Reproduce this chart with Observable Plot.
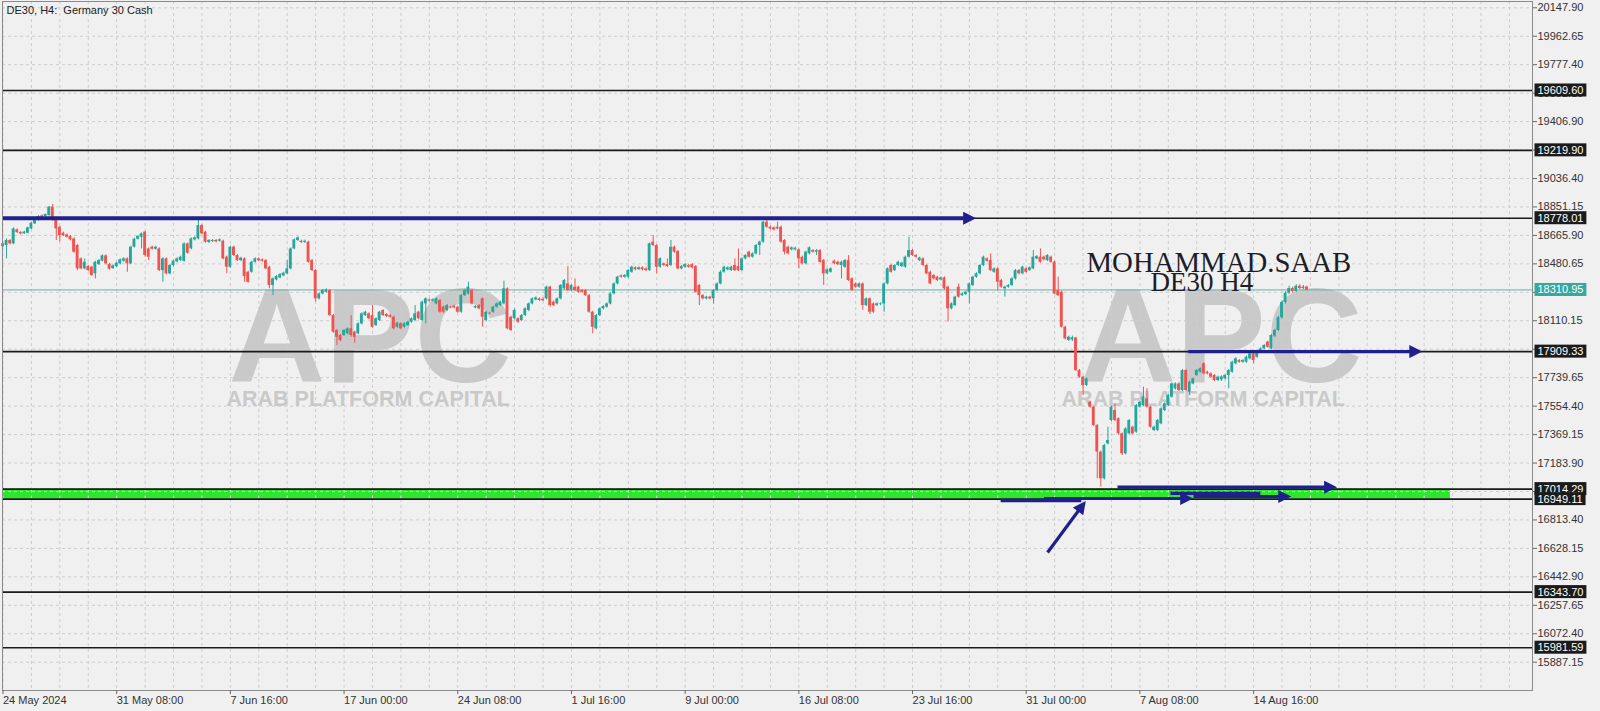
<!DOCTYPE html>
<html><head><meta charset="utf-8">
<script src="https://cdn.jsdelivr.net/npm/d3@7"></script>
<script src="https://cdn.jsdelivr.net/npm/@observablehq/plot@0.6"></script>
<style>
html,body{margin:0;padding:0;background:#f0f0f0;}
#chart{width:1600px;height:711px;position:relative;overflow:hidden;background:#f0f0f0;}
</style></head><body><div id="chart"></div>
<script>
// ---------- DATA (H4 bars, index 0 = 24 May 2024 00:00) ----------
const opens = [
18593,18600,18633,18611,18702,18685,18676,18680,18708,18741,
18763,18793,18789,18795,18850,18767,18719,18680,18669,18659,
18643,18600,18513,18448,18463,18459,18416,18476,18498,18533,
18476,18450,18463,18481,18498,18513,18481,18589,18641,18654,
18687,18578,18589,18576,18578,18437,18513,18416,18470,18494,
18502,18498,18611,18578,18637,18643,18730,18687,18620,18626,
18633,18628,18628,18524,18459,18589,18535,18502,18513,18426,
18426,18491,18513,18507,18502,18459,18340,18376,18389,18402,
18416,18448,18578,18633,18628,18620,18622,18502,18437,18253,
18285,18296,18307,18144,18047,18014,18014,18025,18058,18036,
18025,18090,18144,18155,18144,18079,18112,18177,18151,18144,
18133,18068,18090,18068,18079,18101,18112,18166,18112,18220,
18246,18238,18220,18242,18199,18177,18199,18205,18199,18166,
18274,18285,18307,18194,18209,18253,18112,18159,18166,18199,
18209,18220,18318,18133,18123,18123,18112,18144,18177,18220,
18246,18253,18250,18253,18329,18231,18220,18253,18318,18350,
18307,18329,18329,18307,18307,18274,18166,18058,18144,18188,
18199,18220,18285,18350,18402,18394,18394,18426,18455,18444,
18455,18448,18437,18622,18600,18459,18481,18476,18470,18589,
18561,18448,18459,18470,18476,18463,18340,18274,18253,18264,
18253,18307,18350,18426,18442,18437,18470,18463,18437,18513,
18557,18524,18546,18600,18622,18752,18719,18715,18719,18719,
18633,18589,18572,18572,18572,18524,18481,18546,18567,18557,
18567,18502,18416,18426,18498,18491,18470,18459,18502,18383,
18350,18329,18350,18209,18253,18220,18209,18216,18220,18350,
18470,18437,18470,18463,18459,18524,18567,18535,18502,18513,
18470,18426,18405,18394,18376,18389,18329,18188,18209,18329,
18274,18281,18296,18340,18394,18416,18470,18513,18502,18426,
18448,18372,18318,18329,18340,18383,18437,18416,18448,18437,
18448,18513,18524,18524,18502,18524,18491,18307,18296,18068,
17982,17985,17998,17786,17743,17689,17580,17548,17428,17255,
17081,17309,17461,17526,17472,17374,17244,17374,17417,17385,
17548,17558,17602,17548,17396,17396,17439,17526,17558,17613,
17667,17699,17656,17786,17645,17699,17754,17775,17830,17775,
17765,17754,17721,17725,17732,17754,17775,17830,17851,17840,
17840,17862,17895,17873,17906,17927,17971,17927,18010,18047,
18130,18230,18290,18320,18300,18335,18320,18330];
const highs = [
18615,18643,18639,18715,18708,18691,18693,18719,18752,18774,
18795,18800,18806,18854,18867,18771,18726,18687,18676,18665,
18650,18606,18520,18513,18470,18465,18498,18509,18539,18539,
18483,18474,18491,18513,18520,18520,18596,18648,18665,18682,
18693,18585,18596,18596,18585,18520,18520,18476,18505,18520,
18531,18617,18617,18650,18656,18767,18737,18693,18639,18639,
18639,18643,18635,18531,18596,18596,18541,18524,18520,18433,
18498,18520,18520,18513,18509,18465,18390,18405,18418,18426,
18502,18585,18643,18656,18635,18635,18628,18509,18444,18292,
18314,18318,18314,18151,18053,18021,18053,18064,18144,18042,
18097,18162,18172,18162,18209,18129,18172,18183,18157,18151,
18140,18101,18097,18097,18107,18129,18209,18172,18238,18259,
18253,18253,18259,18248,18205,18216,18205,18212,18205,18281,
18314,18361,18314,18209,18216,18259,18172,18166,18205,18227,
18238,18368,18324,18140,18188,18129,18151,18194,18227,18259,
18266,18259,18259,18335,18335,18238,18259,18346,18379,18463,
18346,18383,18335,18314,18314,18281,18172,18151,18194,18209,
18227,18292,18357,18400,18409,18411,18444,18465,18461,18461,
18461,18455,18617,18665,18606,18520,18487,18513,18633,18596,
18567,18470,18483,18476,18483,18470,18346,18281,18270,18270,
18314,18357,18437,18465,18461,18465,18513,18578,18520,18541,
18563,18552,18606,18628,18758,18767,18726,18721,18752,18726,
18639,18596,18591,18589,18578,18531,18563,18591,18574,18574,
18574,18509,18448,18455,18505,18498,18498,18509,18535,18390,
18357,18357,18357,18259,18259,18227,18227,18227,18357,18455,
18476,18476,18498,18491,18531,18654,18574,18541,18524,18520,
18476,18433,18411,18400,18396,18396,18335,18227,18270,18350,
18292,18303,18357,18400,18422,18476,18531,18520,18546,18455,
18455,18379,18335,18346,18390,18444,18444,18465,18455,18461,
18567,18535,18578,18531,18541,18531,18498,18394,18303,18075,
18010,18010,18003,17793,17749,17738,17587,17554,17435,17261,
17305,17417,17554,17569,17478,17380,17413,17467,17424,17565,
17587,17678,17667,17554,17424,17467,17543,17576,17630,17706,
17706,17706,17793,17793,17717,17738,17793,17804,17836,17782,
17771,17760,17749,17752,17760,17793,17847,17869,17858,17858,
17880,17901,17901,17912,17934,17955,17977,18021,18055,18140,
18240,18300,18335,18330,18345,18345,18340,18335];
const lows = [
18589,18513,18604,18606,18678,18669,18672,18676,18704,18737,
18758,18778,18784,18791,18758,18633,18622,18659,18648,18630,
18550,18437,18442,18442,18431,18398,18383,18470,18494,18474,
18439,18444,18457,18474,18491,18426,18476,18585,18637,18578,
18524,18502,18570,18570,18431,18361,18409,18409,18463,18487,
18496,18491,18544,18572,18630,18637,18669,18615,18613,18620,
18617,18622,18507,18416,18452,18528,18496,18496,18361,18355,
18420,18485,18496,18491,18442,18318,18274,18370,18383,18396,
18409,18442,18572,18626,18613,18613,18485,18431,18231,18246,
18279,18290,18138,18029,17949,17975,18008,18018,18003,17964,
18018,18083,18138,18116,18062,18073,18105,18138,18131,18127,
18051,18062,18051,18062,18073,18094,18105,18116,18105,18090,
18231,18231,18214,18159,18159,18170,18188,18188,18159,18159,
18268,18279,18214,18188,18181,18068,18105,18149,18159,18192,
18203,18214,18051,18040,18116,18094,18105,18138,18170,18214,
18240,18235,18235,18246,18199,18203,18214,18246,18311,18300,
18300,18300,18290,18290,18268,18159,18025,18051,18138,18181,
18192,18214,18279,18344,18387,18387,18387,18420,18435,18437,
18435,18431,18431,18593,18416,18452,18463,18457,18463,18550,
18442,18442,18452,18452,18448,18290,18209,18246,18246,18246,
18220,18300,18344,18420,18435,18431,18431,18431,18431,18507,
18518,18518,18539,18535,18615,18713,18702,18695,18702,18615,
18539,18539,18565,18565,18448,18474,18474,18539,18550,18535,
18485,18340,18409,18420,18474,18470,18383,18452,18366,18300,
18322,18322,18177,18203,18151,18159,18203,18209,18166,18344,
18420,18431,18463,18457,18452,18518,18528,18518,18496,18463,
18409,18344,18376,18366,18370,18311,18101,18181,18203,18257,
18268,18274,18220,18333,18387,18409,18463,18491,18431,18420,
18307,18322,18264,18322,18333,18376,18409,18409,18420,18431,
18442,18507,18485,18500,18496,18485,18279,18268,18062,17986,
17975,17975,17780,17736,17623,17682,17541,17422,17081,17027,
17074,17302,17454,17454,17367,17233,17237,17367,17367,17378,
17541,17552,17541,17411,17389,17389,17433,17519,17552,17606,
17660,17649,17649,17649,17623,17693,17747,17769,17758,17758,
17736,17715,17715,17715,17725,17667,17769,17823,17834,17834,
17834,17856,17830,17866,17899,17921,17932,17921,18000,18040,
18120,18220,18280,18290,18295,18310,18312,18305];
const closes = [
18611,18633,18611,18708,18685,18676,18687,18715,18745,18767,
18789,18784,18802,18850,18767,18708,18665,18665,18654,18637,
18557,18448,18448,18491,18437,18405,18491,18502,18533,18481,
18446,18468,18485,18507,18513,18481,18589,18641,18659,18676,
18535,18524,18576,18589,18437,18513,18416,18470,18498,18513,
18524,18611,18550,18643,18650,18730,18676,18622,18633,18633,
18624,18637,18513,18459,18589,18535,18502,18518,18398,18361,
18491,18513,18502,18498,18448,18340,18383,18398,18411,18420,
18448,18578,18637,18650,18620,18628,18491,18437,18253,18285,
18307,18311,18144,18036,18003,17982,18047,18058,18014,18003,
18090,18155,18166,18123,18068,18123,18166,18144,18138,18133,
18058,18094,18058,18090,18101,18123,18155,18123,18231,18253,
18238,18246,18253,18166,18166,18209,18194,18194,18166,18274,
18307,18329,18220,18203,18188,18133,18166,18155,18199,18220,
18231,18318,18058,18047,18177,18101,18144,18188,18220,18253,
18259,18242,18240,18329,18209,18209,18253,18340,18372,18307,
18340,18307,18296,18296,18274,18166,18068,18144,18188,18203,
18220,18285,18350,18394,18394,18405,18437,18459,18442,18455,
18442,18437,18611,18600,18459,18513,18470,18463,18589,18557,
18448,18463,18476,18459,18455,18296,18274,18253,18264,18253,
18307,18350,18426,18459,18455,18459,18437,18437,18513,18535,
18524,18546,18600,18622,18752,18719,18708,18702,18708,18622,
18557,18546,18585,18583,18513,18481,18557,18585,18557,18567,
18491,18416,18442,18448,18481,18476,18491,18502,18372,18307,
18329,18350,18209,18253,18166,18166,18220,18220,18350,18448,
18426,18470,18491,18485,18524,18567,18535,18524,18518,18470,
18416,18350,18383,18372,18389,18318,18188,18220,18264,18264,
18285,18296,18350,18394,18416,18470,18524,18498,18437,18448,
18361,18329,18329,18340,18383,18437,18416,18459,18426,18455,
18524,18528,18491,18507,18535,18491,18285,18274,18068,17992,
18003,18000,17786,17743,17689,17732,17548,17428,17255,17081,
17298,17331,17548,17461,17374,17244,17406,17461,17374,17558,
17580,17613,17548,17417,17417,17461,17537,17569,17623,17699,
17699,17656,17786,17656,17710,17732,17786,17797,17765,17765,
17743,17721,17743,17745,17754,17786,17840,17862,17840,17851,
17873,17895,17851,17906,17927,17949,17938,18014,18047,18130,
18230,18290,18320,18300,18335,18320,18330,18311];

const xTickBars   = [0,32,64,96,128,160,192,224,256,288,320,352];
const xTickLabels = ["24 May 2024","31 May 08:00","7 Jun 16:00","17 Jun 00:00","24 Jun 08:00","1 Jul 16:00",
                     "9 Jul 00:00","16 Jul 08:00","23 Jul 16:00","31 Jul 00:00","7 Aug 08:00","14 Aug 16:00"];
const yTicks = [20147.90,19962.65,19777.40,19592.15,19406.90,19221.65,19036.40,18851.15,18665.90,18480.65,
                18295.40,18110.15,17924.90,17739.65,17554.40,17369.15,17183.90,16998.65,16813.40,16628.15,
                16442.90,16257.65,16072.40,15887.15];
const levels = [19609.60,19219.90,18778.01,17909.33,17014.29,16949.11,16343.70,15981.59];
const lastPrice = 18310.95;
const zoneBand = {from: -0.14, to: 407.4, low: 16949.11, high: 17014.29};
// drawn trend arrows (bar index, price)
const topLine   = [{x1: -0.14, y1: 18778.01, x2: 270.6, y2: 18778.01}];
const arrowsHead = [
  {x1: 333.6, y1: 17909.33, x2: 396.2, y2: 17909.33},
  {x1: 313.7, y1: 17027,    x2: 372.2, y2: 17027},
  {x1: 293.0, y1: 16953,    x2: 331.7, y2: 16953},
  {x1: 335.1, y1: 16966,    x2: 359.3, y2: 16966},
  {x1: 294.0, y1: 16601,    x2: 302.8, y2: 16876}
];
const plainLines = [
  {x1: 280.8, y1: 16940, x2: 303.5, y2: 16940},
  {x1: 328.6, y1: 16987, x2: 353.9, y2: 16987}
];
const titleText = "DE30, H4:\u00a0 Germany 30 Cash";
const authorText = "MOHAMMAD.SAAB";
const symbolText = "DE30 H4";
const wmLogo = "APC";
const wmName = "ARAB PLATFORM CAPITAL";

// ---------- STYLE ----------
const BULL = "#26a69a", BEAR = "#ef5350", NAVY = "#20208c", NAVY2 = "#21218d";
const xDomain = [-0.14, 430.5], yDomain = [15702.9, 20188.9];
const vGrid = d3.range(0, 431, 8);

const candles = opens.map((o, i) => ({i, o, h: highs[i], l: lows[i], c: closes[i]}));
const bull = candles.filter(d => d.c >= d.o), bear = candles.filter(d => d.c < d.o);
const labelMap = new Map(xTickBars.map((b, i) => [b, xTickLabels[i]]));
const wm = {fill: "#c9c9c9", fontWeight: "bold", textAnchor: "start", lineAnchor: "middle", frameAnchor: "top-left", text: d => d};
const sig = {frameAnchor: "top-left", lineAnchor: "middle", textAnchor: "start", text: d => d, fontFamily: "'Liberation Serif', 'Times New Roman', serif", fill: "#1d1d28"};

const chart = Plot.plot({
  width: 1600, height: 711,
  marginLeft: 2, marginRight: 68, marginTop: 1, marginBottom: 21,
  style: {background: "transparent", fontFamily: "'Liberation Sans', Arial, sans-serif", fontSize: "11px", color: "#333"},
  x: {type: "linear", domain: xDomain, axis: null},
  y: {type: "linear", domain: yDomain, axis: null},
  marks: [
    // watermark
    Plot.text([wmLogo], {...wm, dx: 226, dy: 338, fontSize: 134}),
    Plot.text([wmName], {...wm, dx: 224, dy: 398, fontSize: 21.5}),
    Plot.text([wmLogo], {...wm, dx: 1077, dy: 338, fontSize: 134}),
    Plot.text([wmName], {...wm, dx: 1059, dy: 398, fontSize: 21.5}),
    // grid
    Plot.gridY({ticks: yTicks, stroke: "#cdcdcd", strokeOpacity: 1, strokeDasharray: "3,3"}),
    Plot.gridX({ticks: vGrid, stroke: "#cdcdcd", strokeOpacity: 1, strokeDasharray: "3,3"}),
    // support zone
    Plot.rect([zoneBand], {x1: "from", x2: "to", y1: "low", y2: "high", fill: "#2fe62f"}),
    Plot.ruleY([16998.65], {x1: zoneBand.from, x2: zoneBand.to, stroke: "#c8f7c8", strokeDasharray: "3,3"}),
    Plot.ruleX(vGrid.filter(v => v <= zoneBand.to), {y1: zoneBand.low, y2: zoneBand.high, stroke: "#c8f7c8", strokeDasharray: "3,3"}),
    // horizontal levels
    Plot.ruleY(levels, {stroke: "#1a1a1a", strokeWidth: 1.6}),
    Plot.ruleY([lastPrice], {stroke: "#5fb5ad", strokeWidth: 1}),
    // candles
    Plot.ruleX(bull, {x: "i", y1: "l", y2: "h", stroke: BULL, strokeWidth: 1}),
    Plot.ruleX(bear, {x: "i", y1: "l", y2: "h", stroke: BEAR, strokeWidth: 1}),
    Plot.rect(bull, {x1: d => d.i - 0.4, x2: d => d.i + 0.4, y1: "o", y2: "c", fill: BULL}),
    Plot.rect(bear, {x1: d => d.i - 0.4, x2: d => d.i + 0.4, y1: "o", y2: "c", fill: BEAR}),
    // drawn trend lines / arrows
    Plot.link(topLine, {x1: "x1", y1: "y1", x2: "x2", y2: "y2", stroke: NAVY2, strokeWidth: 4}),
    Plot.link(plainLines, {x1: "x1", y1: "y1", x2: "x2", y2: "y2", stroke: NAVY, strokeWidth: 3.5}),
    Plot.link(arrowsHead, {x1: "x1", y1: "y1", x2: "x2", y2: "y2", stroke: NAVY, strokeWidth: 3.2}),
    // signature
    Plot.text([authorText], {...sig, dx: 1084, dy: 261, fontSize: 28.8}),
    Plot.text([symbolText], {...sig, dx: 1148, dy: 281, fontSize: 27}),
    Plot.text([titleText], {frameAnchor: "top-left", lineAnchor: "middle", dx: 4, dy: 9, text: d => d, textAnchor: "start", fontSize: 11, fill: "#222"}),
    // frame & axes
    Plot.frame({stroke: "#8a8a8a"}),
    Plot.axisY({anchor: "right", ticks: yTicks, tickFormat: d => d.toFixed(2), tickSize: 4, tickPadding: 1, fontSize: 11, stroke: "#666", fill: "#333"}),
    Plot.axisX({anchor: "bottom", ticks: xTickBars, tickFormat: d => labelMap.get(d), tickSize: 4, tickPadding: 2, textAnchor: "start", fontSize: 11, stroke: "#666", fill: "#333"}),
    // level price tags
    Plot.text(levels, {x: xDomain[1], y: d => d, text: d => d.toFixed(2), dx: 5, textAnchor: "start", fontSize: 11, fill: "#ffffff"}),
    Plot.text([lastPrice], {x: xDomain[1], y: d => d, text: d => d.toFixed(2), dx: 5, textAnchor: "start", fontSize: 11, fill: "#fefefe"})
  ]
});
document.getElementById("chart").appendChild(chart);

const svg = d3.select(chart);
// arrow heads
const defs = svg.insert("defs", ":first-child");
function marker(id, w, h) {
  defs.append("marker").attr("id", id).attr("viewBox", "0 0 10 10").attr("refX", 1).attr("refY", 5)
    .attr("markerUnits", "userSpaceOnUse").attr("markerWidth", w).attr("markerHeight", h).attr("orient", "auto")
    .append("path").attr("d", "M0,0L10,5L0,10Z").attr("fill", NAVY);
}
marker("ahBig", 15, 13);
marker("ah", 14, 13);
svg.selectAll('g[stroke="' + NAVY2 + '"] path').attr("marker-end", "url(#ahBig)");
svg.selectAll('g[stroke="' + NAVY + '"][stroke-width="3.2"] path').attr("marker-end", "url(#ah)");
// tag boxes behind price labels
function boxes(sel, bg) {
  svg.selectAll(sel).each(function () {
    const b = this.getBBox();
    const r = document.createElementNS("http://www.w3.org/2000/svg", "rect");
    r.setAttribute("x", b.x - 3); r.setAttribute("y", b.y - 0.5);
    r.setAttribute("width", b.width + 6); r.setAttribute("height", b.height + 1);
    r.setAttribute("fill", bg);
    r.setAttribute("stroke", "none");
    const t = this.getAttribute("transform"); if (t) r.setAttribute("transform", t);
    this.parentNode.insertBefore(r, this);
  });
}
boxes('g[fill="#ffffff"] text', "#1b1b1b");
boxes('g[fill="#fefefe"] text', "#3aa79c");
</script></body></html>
